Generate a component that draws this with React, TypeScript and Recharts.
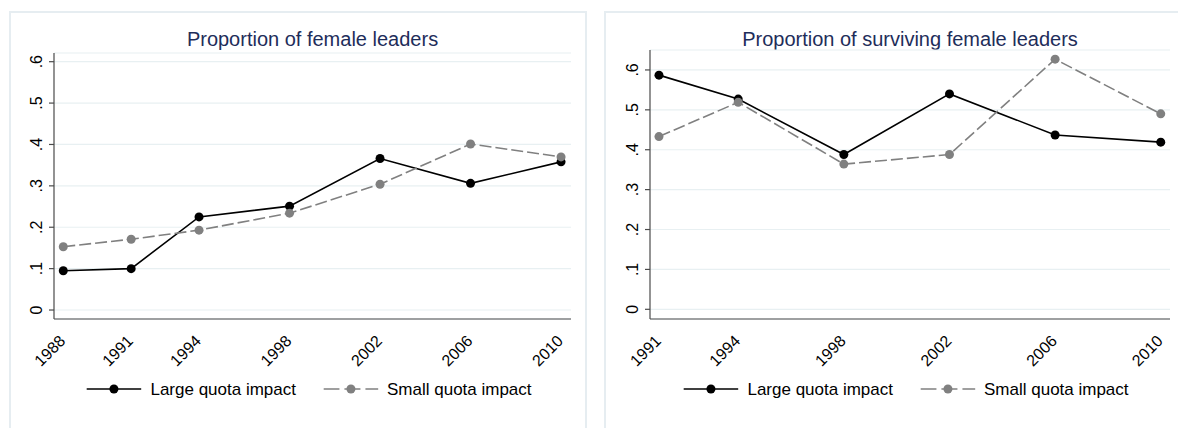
import { LineChart, Line, XAxis, YAxis, CartesianGrid } from 'recharts'

const FONT = '"Liberation Sans", Arial, Helvetica, sans-serif'
const TITLE_COLOR = '#1e2d5a'
const LARGE_COLOR = '#000000'
const SMALL_COLOR = '#808080'
const AXIS_COLOR = '#4a4a4a'
const GRID_COLOR = '#e8f0f2'
const PANEL_BORDER = '#e6edf1'

// left panel: all female leaders
const leftYears = [1988, 1991, 1994, 1998, 2002, 2006, 2010]
const leftLarge = [0.095, 0.1, 0.225, 0.251, 0.366, 0.306, 0.358]
const leftSmall = [0.153, 0.171, 0.193, 0.234, 0.304, 0.401, 0.37]

// right panel: surviving female leaders
const rightYears = [1991, 1994, 1998, 2002, 2006, 2010]
const rightLarge = [0.587, 0.527, 0.388, 0.54, 0.437, 0.419]
const rightSmall = [0.433, 0.519, 0.364, 0.388, 0.627, 0.49]

const yTicks = [0, 0.1, 0.2, 0.3, 0.4, 0.5, 0.6]
const seriesLabels = ['Large quota impact', 'Small quota impact']

const fmtY = (v: number) => (v === 0 ? '0' : '.' + Math.round(v * 10))

const XTick = (props: any) => {
  const { x, y, payload } = props
  const tx = x + 3
  const ty = y + 23
  return (
    <text x={tx} y={ty} transform={`rotate(-45, ${tx}, ${ty})`} textAnchor="end" fontSize={16} fill="#000" fontFamily={FONT}>
      {payload.value}
    </text>
  )
}

const YTick = (props: any) => {
  const { x, y, payload } = props
  const tx = x - 7
  return (
    <text x={tx} y={y} transform={`rotate(-90, ${tx}, ${y})`} textAnchor="middle" fontSize={16} fill="#000" fontFamily={FONT}>
      {fmtY(payload.value)}
    </text>
  )
}

const LegendKey = ({ color, dashed }: { color: string; dashed?: boolean }) => (
  <svg width={55} height={12} style={{ display: 'block' }}>
    <line x1={0} y1={6} x2={55} y2={6} stroke={color} strokeWidth={1.6} strokeDasharray={dashed ? '16 5' : undefined} />
    <circle cx={27.5} cy={6} r={4.5} fill={color} />
  </svg>
)

interface PanelProps {
  title: string
  years: number[]
  large: number[]
  small: number[]
  left: number
  width: number
  yAxisWidth: number
  margin: { top: number; right: number; left: number; bottom: number }
  xDomain: [number, number]
  yDomain: [number, number]
  legendCenter: number
}

function Panel({ title, years, large, small, left, width, yAxisWidth, margin, xDomain, yDomain, legendCenter }: PanelProps) {
  const data = years.map((year, i) => ({ year, large: large[i], small: small[i] }))
  const plotLeft = margin.left + yAxisWidth
  const plotCenter = plotLeft + (width - plotLeft - margin.right) / 2
  return (
    <div style={{ position: 'absolute', left, top: 0, width, height: 428 }}>
      <div
        style={{
          position: 'absolute',
          left: plotCenter,
          top: 29,
          transform: 'translateX(-50%)',
          whiteSpace: 'nowrap',
          fontSize: 20,
          lineHeight: '20px',
          color: TITLE_COLOR,
          fontFamily: FONT,
        }}
      >
        {title}
      </div>
      <LineChart width={width} height={428} data={data} margin={margin}>
        <CartesianGrid horizontal vertical={false} stroke={GRID_COLOR} strokeWidth={1.2} />
        <XAxis
          dataKey="year"
          type="number"
          domain={xDomain}
          ticks={years}
          allowDataOverflow
          height={30}
          tickLine={false}
          tickSize={0}
          tickMargin={0}
          axisLine={{ stroke: AXIS_COLOR, strokeWidth: 1.2 }}
          tick={<XTick />}
          interval={0}
        />
        <YAxis
          type="number"
          domain={yDomain}
          ticks={yTicks}
          allowDataOverflow
          width={yAxisWidth}
          tickSize={5}
          tickMargin={0}
          tickLine={{ stroke: AXIS_COLOR, strokeWidth: 1.2 }}
          axisLine={{ stroke: AXIS_COLOR, strokeWidth: 1.2 }}
          tick={<YTick />}
          interval={0}
        />
        <Line
          dataKey="large"
          stroke={LARGE_COLOR}
          strokeWidth={1.6}
          dot={{ r: 4.5, fill: LARGE_COLOR, stroke: LARGE_COLOR, strokeWidth: 0 }}
          isAnimationActive={false}
        />
        <Line
          dataKey="small"
          stroke={SMALL_COLOR}
          strokeWidth={1.6}
          strokeDasharray="12 4"
          dot={{ r: 4.5, fill: SMALL_COLOR, stroke: SMALL_COLOR, strokeWidth: 0 }}
          isAnimationActive={false}
        />
      </LineChart>
      <div
        style={{
          position: 'absolute',
          left: legendCenter,
          top: 379,
          transform: 'translateX(-50%)',
          display: 'flex',
          alignItems: 'center',
          height: 20,
          whiteSpace: 'nowrap',
          fontFamily: FONT,
          fontSize: 17,
          lineHeight: '20px',
          color: '#000',
        }}
      >
        <LegendKey color={LARGE_COLOR} />
        <span style={{ marginLeft: 9, position: 'relative', top: 1 }}>{seriesLabels[0]}</span>
        <span style={{ width: 27 }} />
        <LegendKey color={SMALL_COLOR} dashed />
        <span style={{ marginLeft: 9, position: 'relative', top: 1 }}>{seriesLabels[1]}</span>
      </div>
    </div>
  )
}

export default function App() {
  return (
    <div style={{ position: 'absolute', left: 0, top: 0, width: 1178, height: 428, background: '#fff', overflow: 'hidden' }}>
      <div style={{ position: 'absolute', left: 9, top: 11, width: 574, height: 440, border: `2px solid ${PANEL_BORDER}` }} />
      <div style={{ position: 'absolute', left: 604, top: 11, width: 600, height: 440, border: `2px solid ${PANEL_BORDER}` }} />
      <Panel
        title="Proportion of female leaders"
        years={leftYears}
        large={leftLarge}
        small={leftSmall}
        left={0}
        width={590}
        yAxisWidth={54}
        margin={{ top: 53, right: 19, left: 0, bottom: 79 }}
        xDomain={[1987.59, 2010.44]}
        yDomain={[-0.0217, 0.621]}
        legendCenter={309}
      />
      <Panel
        title="Proportion of surviving female leaders"
        years={rightYears}
        large={rightLarge}
        small={rightSmall}
        left={590}
        width={588}
        yAxisWidth={60}
        margin={{ top: 50, right: 8, left: 0, bottom: 79 }}
        xDomain={[1990.66, 2010.35]}
        yDomain={[-0.0243, 0.65]}
        legendCenter={316}
      />
    </div>
  )
}
